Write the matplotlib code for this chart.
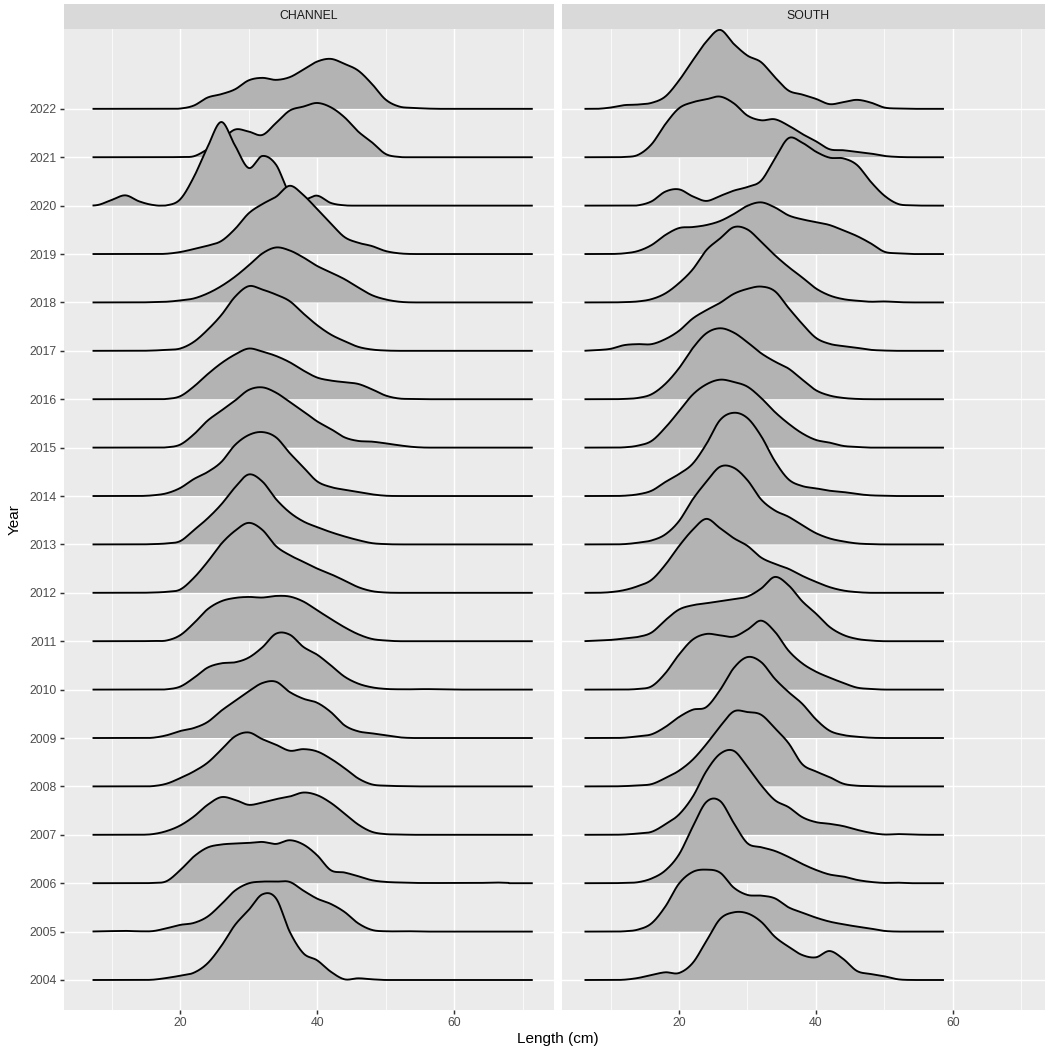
import numpy as np
import matplotlib
matplotlib.use("Agg")
import matplotlib.pyplot as plt

plt.rcParams['font.family'] = ['Liberation Sans', 'DejaVu Sans']

# ---------------- data ----------------
years = [2004, 2005, 2006, 2007, 2008, 2009, 2010, 2011, 2012, 2013,
         2014, 2015, 2016, 2017, 2018, 2019, 2020, 2021, 2022]
facets = ["CHANNEL", "SOUTH"]
x_ticks = [20, 40, 60]
x_label = "Length (cm)"
y_label = "Year"

# length grid (cm) at which the ridge heights were read
length_grid = [8, 10, 12, 14, 16, 18, 20, 22, 24, 26, 28, 30, 32, 34, 36, 38,
               40, 42, 44, 46, 48, 50, 52, 54, 56, 58, 60, 62, 64, 66, 68]
# density range of each facet (cm)
channel_range = [7.2, 71.5]
south_range = [6.2, 58.7]

# scaled density heights, starting at 8 cm, every 2 cm
channel_2022 = [0, 0, 0, 0, 0, 0, 0.3, 3.3, 11.3, 14.7, 19.5, 28.5, 31, 29, 31.7, 39.3, 47.3, 50, 45, 38.3, 25, 9.3, 2.3, 1, 0.3]
channel_2021 = [0, 0, 0, 0, 0, 0, 0.3, 1, 8, 17, 27.7, 25.7, 22.3, 34.3, 46.7, 50.7, 54.3, 50, 40, 25.7, 15, 3.3, 0.3]
channel_2020 = [0.7, 5.7, 10.3, 4.3, 0.7, 0.3, 6.3, 28.7, 58.7, 83.7, 60.3, 37.7, 49.7, 41, 12, 6, 10, 2.7, 0.3]
channel_2019 = [0, 0, 0, 0, 0, 0.3, 2, 5, 8.3, 13, 25, 40.7, 50, 57.3, 68.3, 59, 45, 30.7, 17, 11.3, 8, 3, 0.7]
channel_2018 = [0, 0, 0, 0, 0.3, 0.7, 2, 4, 9, 16.3, 25.7, 37, 49, 55, 52, 45, 36.5, 30, 23.3, 15, 7.3, 3, 0.7]
channel_2017 = [0, 0, 0, 0, 0.3, 1, 2.3, 9, 21, 35.7, 54, 64.7, 61.3, 56.3, 49.7, 37.3, 25.7, 16.3, 9.7, 4, 1.3, 0.3]
channel_2016 = [0, 0, 0, 0, 0, 0.3, 3, 12.7, 25, 36, 44.7, 50.7, 47.7, 43.3, 37, 28.7, 21.7, 18.7, 17, 15.3, 10, 3.7, 0.7, 0.3]
channel_2015 = [0, 0, 0, 0, 0, 0.3, 3, 13.3, 27, 37, 47, 57.7, 60.3, 55, 45.7, 36.3, 26.3, 18.7, 10.3, 6.7, 6, 4.3, 2.3, 0.7]
channel_2014 = [0, 0, 0, 0, 0.7, 2.7, 8, 17, 24, 34, 51, 61, 64, 58.7, 43, 28.7, 14.7, 9, 6.3, 4, 1.7, 0.3]
channel_2013 = [0, 0, 0, 0, 0.3, 1, 3.3, 14.3, 26, 40, 57, 70, 63, 45.3, 32, 23, 17.3, 12.3, 8, 4.3, 1.3, 0.3]
channel_2012 = [0, 0, 0, 0, 0.3, 1, 3.3, 15, 31, 49, 62, 70, 63, 46.7, 37.7, 31, 24.3, 18.7, 12.3, 5.7, 1.7, 0.3]
channel_2011 = [0, 0, 0, 0, 0.3, 0.7, 6, 18, 32, 40, 43.3, 44.3, 43.7, 45.3, 44.7, 39.7, 31, 22.3, 14, 7, 2.3, 0.7]
channel_2010 = [0, 0, 0, 0, 0, 0.3, 3, 11.7, 22, 26.3, 27.3, 32, 42.3, 56, 55, 42.7, 35, 24.3, 13, 6, 2.3, 0.7, 0.3, 0.3, 0.5, 0.2]
channel_2009 = [0, 0, 0, 0, 0.3, 2.7, 7, 10, 16, 27.3, 37, 46.7, 55, 56.3, 46, 39.3, 35.3, 26, 12.7, 6.7, 4.7, 2.7, 0.7]
channel_2008 = [0, 0, 0, 0, 0.3, 2.7, 8.3, 15, 23.7, 36.7, 50, 54, 47.3, 41.7, 35.7, 37.3, 35, 27.7, 18.3, 8, 2, 0.7, 0.3]
channel_2007 = [0, 0, 0, 0, 0.7, 3.7, 9.3, 18.3, 30, 37.7, 35, 30, 32.3, 35.7, 38.3, 42.3, 39.7, 32, 21.3, 10.3, 3, 0.7, 0.3]
channel_2006 = [0, 0, 0, 0, 0.3, 2, 13, 26.7, 35.7, 38.7, 39.7, 40.3, 41.3, 39.3, 43, 38.7, 28, 13, 10.7, 7, 3, 1.3, 0.7, 0.3, 0.2, 0.2, 0.2, 0.2, 0.3, 0.7, 0.3]
channel_2005 = [0.2, 0.5, 0.7, 0.3, 0.5, 3.3, 6.7, 8.7, 15, 27.3, 41, 48.3, 50, 50, 49.7, 41, 33, 27.7, 19.7, 8.3, 1.7, 0.3, 0.3, 0.3]
channel_2004 = [0, 0, 0, 0, 0.3, 2, 4.3, 7.3, 16.7, 34, 55, 70, 85.7, 81.7, 48.3, 26.7, 19.7, 8.3, 0.7, 1.7, 0.7]

south_2022 = [0, 1.3, 3.7, 4.3, 6, 12.3, 28.3, 48.3, 67.3, 79, 65, 53.3, 46.7, 31.7, 18.3, 14.3, 10, 4.7, 6.7, 9, 6.3, 1.3, 0.3]
south_2021 = [0, 0, 0.3, 2.3, 13, 33, 49, 55, 58, 60.7, 54, 41.7, 37, 38, 31.7, 23.3, 16, 8, 7, 5.3, 3.7, 1.3, 0.3]
south_2020 = [0, 0, 0, 0.3, 4.3, 14, 16.3, 9.3, 4.7, 9.7, 15, 18.7, 25, 47, 67.5, 63, 54, 48, 47.3, 40.7, 24, 10, 1.7, 0.3]
south_2019 = [0, 0, 0.7, 3, 9, 19, 26, 27, 29, 33, 40, 48.3, 51.7, 46.7, 38.7, 34.7, 32, 29, 23.7, 18, 10.7, 2.3, 0.7]
south_2018 = [0, 0, 0.3, 1, 3.3, 9, 19.3, 33, 52.3, 64, 75.3, 73, 60.7, 47.3, 35.5, 25, 14, 7, 3.3, 1.7, 0.7, 1, 0.3]
south_2017 = [0.7, 2, 5.7, 6.7, 6.7, 11.7, 20, 32.3, 40.7, 48, 57, 62, 64.3, 59.7, 43, 27, 13, 7, 4.7, 3, 1, 0.3]
south_2016 = [0, 0, 0.3, 1.3, 5, 15.3, 31, 51, 66, 71, 66.7, 57, 46, 37.7, 30.7, 19.7, 9, 3.7, 1.3, 0.3]
south_2015 = [0, 0, 0.3, 2, 6.7, 20, 36.3, 53, 63.3, 68, 65.7, 61, 49.7, 35.7, 24, 14.3, 7.7, 5, 1.7, 0.7]
south_2014 = [0, 0, 0.3, 1.7, 5.3, 14, 22, 32.3, 52, 76, 83.3, 78, 60, 35, 16.7, 10, 7.7, 5.3, 4, 2, 0.7, 0.3]
south_2013 = [0, 0, 0.3, 1.7, 4, 10, 23.3, 45, 62.7, 77.7, 76.7, 64.3, 45, 34, 27.7, 19.3, 11.3, 6, 3, 1, 0.3]
south_2012 = [0, 0.7, 2.7, 6.7, 13, 28, 46.7, 63, 74, 64.7, 54.7, 47, 35.3, 29, 24, 17, 11, 5.7, 2.3, 0.7]
south_2011 = [0.7, 1.3, 2.7, 4.3, 8.7, 21, 31.7, 36, 38, 40, 42, 44.7, 52.7, 64.3, 56, 40, 27.7, 14.3, 6.3, 2.3, 0.7]
south_2010 = [0, 0, 0, 0.7, 3.3, 16.3, 35, 50, 55.7, 54.3, 53, 60, 69, 58, 39, 26.3, 18, 12, 6.7, 2, 0.7]
south_2009 = [0, 0, 0.3, 1.7, 3.7, 11, 21, 28.3, 31, 48, 70, 81, 76, 59.3, 46, 34.3, 18.7, 7.3, 3, 1.3, 0.3]
south_2008 = [0, 0, 0.3, 1, 2.3, 8.3, 15.7, 26.7, 42.3, 60, 75, 74.4, 71.7, 58.3, 43.3, 22.3, 15, 9.3, 2.7, 0.7, 0.3]
south_2007 = [0, 0, 0.3, 1.3, 3, 10.5, 20.3, 38, 63.7, 81, 84, 68, 49.7, 34.7, 27.7, 17.7, 12.7, 11, 8.7, 5, 2, 0.3, 0.7, 0.3]
south_2006 = [0, 0, 0.3, 1, 4.7, 12.7, 28.7, 56.3, 81.3, 82.3, 60.3, 40, 36, 32.3, 26.3, 19.3, 13.3, 8.7, 6.7, 3.3, 1.3, 0.3, 0.5]
south_2005 = [0, 0, 0.3, 2, 8.3, 25, 48, 59.7, 62, 59, 44, 36.7, 36, 33.3, 24.3, 19, 14, 10, 7.3, 5, 3, 0.7]
south_2004 = [0, 0, 0.3, 2, 5, 7.7, 7, 17, 39, 61, 67.7, 66.7, 58.3, 43.3, 33.3, 25, 22.7, 29, 21, 9, 6, 3.7, 0.7]

channel = {2022: channel_2022, 2021: channel_2021, 2020: channel_2020, 2019: channel_2019,
           2018: channel_2018, 2017: channel_2017, 2016: channel_2016, 2015: channel_2015,
           2014: channel_2014, 2013: channel_2013, 2012: channel_2012, 2011: channel_2011,
           2010: channel_2010, 2009: channel_2009, 2008: channel_2008, 2007: channel_2007,
           2006: channel_2006, 2005: channel_2005, 2004: channel_2004}
south = {2022: south_2022, 2021: south_2021, 2020: south_2020, 2019: south_2019,
         2018: south_2018, 2017: south_2017, 2016: south_2016, 2015: south_2015,
         2014: south_2014, 2013: south_2013, 2012: south_2012, 2011: south_2011,
         2010: south_2010, 2009: south_2009, 2008: south_2008, 2007: south_2007,
         2006: south_2006, 2005: south_2005, 2004: south_2004}

# ---------------- helpers ----------------
DENS_PER_ROW = 48.43  # scaled density units per ridge spacing


def smooth_curve(grid, vals, xs):
    g0 = np.asarray(grid, float)
    step = g0[1] - g0[0]
    # zero boundary one step below the first read point
    g = np.concatenate([[g0[0] - step], g0])
    v = np.zeros(len(g))
    v[1:1 + len(vals)] = vals
    m = np.zeros_like(v)
    m[1:-1] = (v[2:] - v[:-2]) / 2.0
    m[0] = v[1] - v[0]
    m[-1] = v[-1] - v[-2]
    tf = (xs - g[0]) / step
    i = np.clip(np.floor(tf).astype(int), 0, len(g) - 2)
    t = tf - i
    h00 = 2 * t**3 - 3 * t**2 + 1
    h10 = t**3 - 2 * t**2 + t
    h01 = -2 * t**3 + 3 * t**2
    h11 = t**3 - t**2
    y = h00 * v[i] + h10 * m[i] + h01 * v[i + 1] + h11 * m[i + 1]
    y[(xs < g[0]) | (xs > g[-1])] = 0.0
    return np.clip(y, 0, None)


W, H = 1045, 1053
fig = plt.figure(figsize=(W / 100, H / 100), dpi=100)
fig.patch.set_facecolor('white')

panel_left = [63.5, 562.3]
panel_w = 490.5
panel_top, panel_bot = 28.5, 1010.0
strip_top = 4.0

xlim = (2.96, 74.6)
ylim = (0.38, 20.66)

for k, (name, data, rng) in enumerate([(facets[0], channel, channel_range),
                                       (facets[1], south, south_range)]):
    ax = fig.add_axes([panel_left[k] / W, (H - panel_bot) / H,
                       panel_w / W, (panel_bot - panel_top) / H])
    ax.set_facecolor('#EBEBEB')
    for s in ax.spines.values():
        s.set_visible(False)
    ax.set_xlim(*xlim)
    ax.set_ylim(*ylim)
    ax.set_xticks(x_ticks)
    ax.set_xticks([10, 30, 50, 70], minor=True)
    ax.set_xticklabels([str(t) for t in x_ticks])
    ax.set_yticks(range(1, len(years) + 1))
    ax.grid(which='major', color='white', lw=1.07)
    ax.grid(which='minor', axis='x', color='white', lw=0.53)
    ax.set_axisbelow(True)
    ax.tick_params(which='major', length=2.75, width=1.07, color='#333333',
                   labelsize=8.8, labelcolor='#4D4D4D', pad=2.2)
    ax.tick_params(which='minor', length=0)
    if k == 0:
        ax.set_yticklabels([str(y) for y in years])
    else:
        ax.tick_params(axis='y', length=0, labelleft=False)

    xs = np.linspace(rng[0], rng[1], 1500)
    for j, yr in enumerate(sorted(years, reverse=True)):
        base = years.index(yr) + 1
        h = smooth_curve(length_grid, data[yr], xs) / DENS_PER_ROW
        z = 2 + j * 2
        ax.fill_between(xs, base, base + h, facecolor='#B3B3B3', lw=0, zorder=z)
        ax.plot(xs, base + h, color='black', lw=1.35, zorder=z + 1,
                solid_capstyle='butt', solid_joinstyle='round')

    # strip
    sax = fig.add_axes([panel_left[k] / W, (H - panel_top) / H,
                        panel_w / W, (panel_top - strip_top) / H])
    sax.set_facecolor('#D9D9D9')
    sax.set_xticks([])
    sax.set_yticks([])
    for s in sax.spines.values():
        s.set_visible(False)
    cx = (panel_left[k] + panel_w / 2) / W
    fig.text(cx, 1 - ((panel_top + strip_top) / 2) / H, name, ha='center',
             va='center', fontsize=8.8, color='#1A1A1A')

fig.text((63.5 + 562.3 + panel_w) / 2 / W, 1 - 1039 / H, x_label,
         ha='center', va='center', fontsize=11, color='black')
fig.text(15 / W, 1 - ((panel_top + panel_bot) / 2) / H, y_label,
         ha='center', va='center', rotation=90, fontsize=11, color='black')

fig.savefig('out.png', dpi=100)
